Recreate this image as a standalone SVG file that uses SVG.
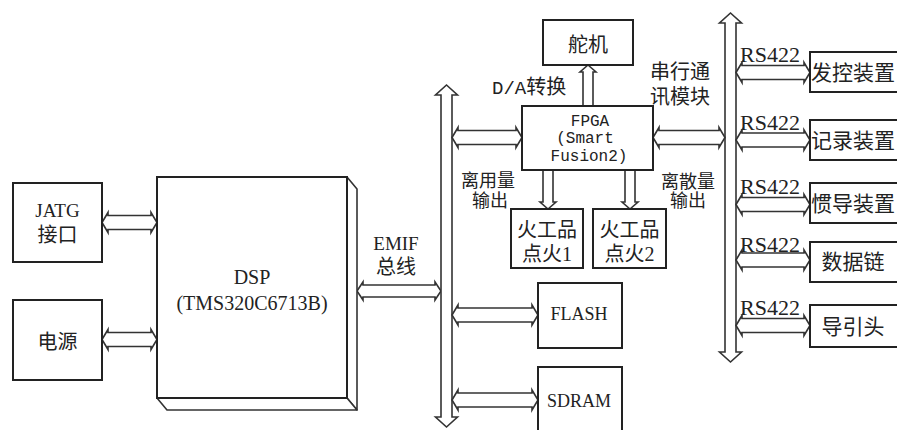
<svg xmlns="http://www.w3.org/2000/svg" width="897" height="430" viewBox="0 0 897 430">
<style>
.box{fill:#fff;stroke:#222;stroke-width:2}
.face{fill:#fff;stroke:#333;stroke-width:1.6;stroke-linejoin:round}
.arr{fill:#fff;stroke:#333;stroke-width:1.6;stroke-linejoin:miter}
.cn{font-family:"Liberation Serif","Noto Sans CJK SC",serif;font-size:20px;fill:#222}
.sm{font-size:18px}
.se{font-family:"Liberation Serif",serif;font-size:19px;fill:#222}
.mo{font-family:"Liberation Mono",monospace;font-size:16px;fill:#222}
.m{text-anchor:middle}
</style>
<rect width="897" height="430" fill="#fff"/>
<g id="connectors">
<path class="arr" d="M102,222.5 L108,212.5 L108,215.5 L151,215.5 L151,212.5 L157,222.5 L151,232.5 L151,229.5 L108,229.5 L108,232.5 Z"/>
<path class="arr" d="M102,339.5 L108,329.5 L108,332.5 L151,332.5 L151,329.5 L157,339.5 L151,349.5 L151,346.5 L108,346.5 L108,349.5 Z"/>
<path class="arr" d="M357,291 L363,282 L363,285 L435,285 L435,282 L441,291 L435,300 L435,297 L363,297 L363,300 Z"/>
<path class="arr" d="M446.5,85 L457.5,95 L452,95 L452,417 L457.5,417 L446.5,427 L435.5,417 L441,417 L441,95 L435.5,95 Z"/>
<path class="arr" d="M730.5,13 L741.5,23 L736,23 L736,352 L741.5,352 L730.5,362 L719.5,352 L725,352 L725,23 L719.5,23 Z"/>
<path class="arr" d="M452,137.5 L458,127.5 L458,130.5 L516,130.5 L516,127.5 L522,137.5 L516,147.5 L516,144.5 L458,144.5 L458,147.5 Z"/>
<path class="arr" d="M653,137.5 L659,127.5 L659,130.5 L719,130.5 L719,127.5 L725,137.5 L719,147.5 L719,144.5 L659,144.5 L659,147.5 Z"/>
<path class="arr" d="M452,315 L458,305 L458,308 L532,308 L532,305 L538,315 L532,325 L532,322 L458,322 L458,325 Z"/>
<path class="arr" d="M452,400 L458,390 L458,393 L532,393 L532,390 L538,400 L532,410 L532,407 L458,407 L458,410 Z"/>
<path class="arr" d="M588,65 L596,72 L593,72 L593,106 L583,106 L583,72 L580,72 Z"/>
<path class="arr" d="M543,170 L553,170 L553,202 L556,202 L548,209 L540,202 L543,202 Z"/>
<path class="arr" d="M625,170 L635,170 L635,202 L638,202 L630,209 L622,202 L625,202 Z"/>
<path class="arr" d="M736,72.5 L742,62.5 L742,65.5 L804,65.5 L804,62.5 L810,72.5 L804,82.5 L804,79.5 L742,79.5 L742,82.5 Z"/>
<path class="arr" d="M736,140 L742,130 L742,133 L804,133 L804,130 L810,140 L804,150 L804,147 L742,147 L742,150 Z"/>
<path class="arr" d="M736,204.5 L742,194.5 L742,197.5 L804,197.5 L804,194.5 L810,204.5 L804,214.5 L804,211.5 L742,211.5 L742,214.5 Z"/>
<path class="arr" d="M736,260 L742,250 L742,253 L804,253 L804,250 L810,260 L804,270 L804,267 L742,267 L742,270 Z"/>
<path class="arr" d="M736,325.5 L742,315.5 L742,318.5 L804,318.5 L804,315.5 L810,325.5 L804,335.5 L804,332.5 L742,332.5 L742,335.5 Z"/>
</g>
<g id="labels">
<text class="se m" x="396" y="250">EMIF</text>
<text class="cn m" x="396" y="274">总线</text>
<text class="mo" x="492" y="94" style="font-size:19px">D/A<tspan class="cn">转换</tspan></text>
<text class="cn" x="650" y="79">串行通</text>
<text class="cn" x="650" y="104">讯模块</text>
<text class="cn sm m" x="488" y="187">离用量</text>
<text class="cn sm m" x="490" y="207">输出</text>
<text class="cn sm m" x="688" y="188">离散量</text>
<text class="cn sm m" x="688" y="207">输出</text>
<text class="se" x="740" y="62" style="font-size:21px" textLength="60" lengthAdjust="spacingAndGlyphs">RS422</text>
<text class="se" x="740" y="130" style="font-size:21px" textLength="60" lengthAdjust="spacingAndGlyphs">RS422</text>
<text class="se" x="740" y="194" style="font-size:21px" textLength="60" lengthAdjust="spacingAndGlyphs">RS422</text>
<text class="se" x="740" y="252" style="font-size:21px" textLength="60" lengthAdjust="spacingAndGlyphs">RS422</text>
<text class="se" x="740" y="315" style="font-size:21px" textLength="60" lengthAdjust="spacingAndGlyphs">RS422</text>
</g>
<g id="jatg">
<rect class="box" x="13" y="183" width="89" height="79"/>
<text class="se m" x="57.5" y="217">JATG</text>
<text class="cn m" x="57.5" y="242">接口</text>
</g>
<g id="power">
<rect class="box" x="13" y="300" width="89" height="80"/>
<text class="cn m" x="57.5" y="349">电源</text>
</g>
<g id="dsp">
<path class="face" d="M347,177 L357,189 L357,410 L347,398 Z"/>
<path class="face" d="M157,398 L347,398 L357,410 L167,410 Z"/>
<rect class="box" x="157" y="177" width="190" height="221"/>
<text class="se m" x="252" y="284" style="font-size:20px">DSP</text>
<text class="se m" x="252" y="310" style="font-size:20px">(TMS320C6713B)</text>
</g>
<g id="servo">
<rect class="box" x="543" y="20" width="90" height="45"/>
<text class="cn m" x="588" y="52">舵机</text>
</g>
<g id="fpga">
<rect class="box" x="522" y="106" width="131" height="64"/>
<text class="mo m" x="590" y="126">FPGA</text>
<text class="mo m" x="585" y="143">(Smart</text>
<text class="mo m" x="589" y="161">Fusion2)</text>
</g>
<g id="fire1">
<rect class="box" x="511" y="209" width="72" height="59"/>
<text class="cn m" x="547" y="237">火工品</text>
<text class="cn m" x="547" y="261">点火1</text>
</g>
<g id="fire2">
<rect class="box" x="593" y="209" width="73" height="59"/>
<text class="cn m" x="629.5" y="237">火工品</text>
<text class="cn m" x="629.5" y="261">点火2</text>
</g>
<g id="flash">
<rect class="box" x="538" y="283" width="84" height="65"/>
<text class="se m" x="579" y="320" style="font-size:18px">FLASH</text>
</g>
<g id="sdram">
<rect class="box" x="538" y="367" width="84" height="70"/>
<text class="se m" x="579" y="407" style="font-size:18px">SDRAM</text>
</g>
<g id="launch">
<rect class="box" x="810" y="52" width="95" height="40"/>
<text class="cn" x="811" y="80" style="font-size:21px">发控装置</text>
</g>
<g id="recorder">
<rect class="box" x="810" y="120" width="95" height="40"/>
<text class="cn" x="811" y="148" style="font-size:21px">记录装置</text>
</g>
<g id="ins">
<rect class="box" x="810" y="183" width="95" height="40"/>
<text class="cn" x="811" y="211" style="font-size:21px">惯导装置</text>
</g>
<g id="datalink">
<rect class="box" x="810" y="242" width="95" height="40"/>
<text class="cn m" x="853" y="269" style="font-size:21px">数据链</text>
</g>
<g id="seeker">
<rect class="box" x="810" y="305" width="95" height="42"/>
<text class="cn m" x="853" y="334" style="font-size:21px">导引头</text>
</g>
</svg>
